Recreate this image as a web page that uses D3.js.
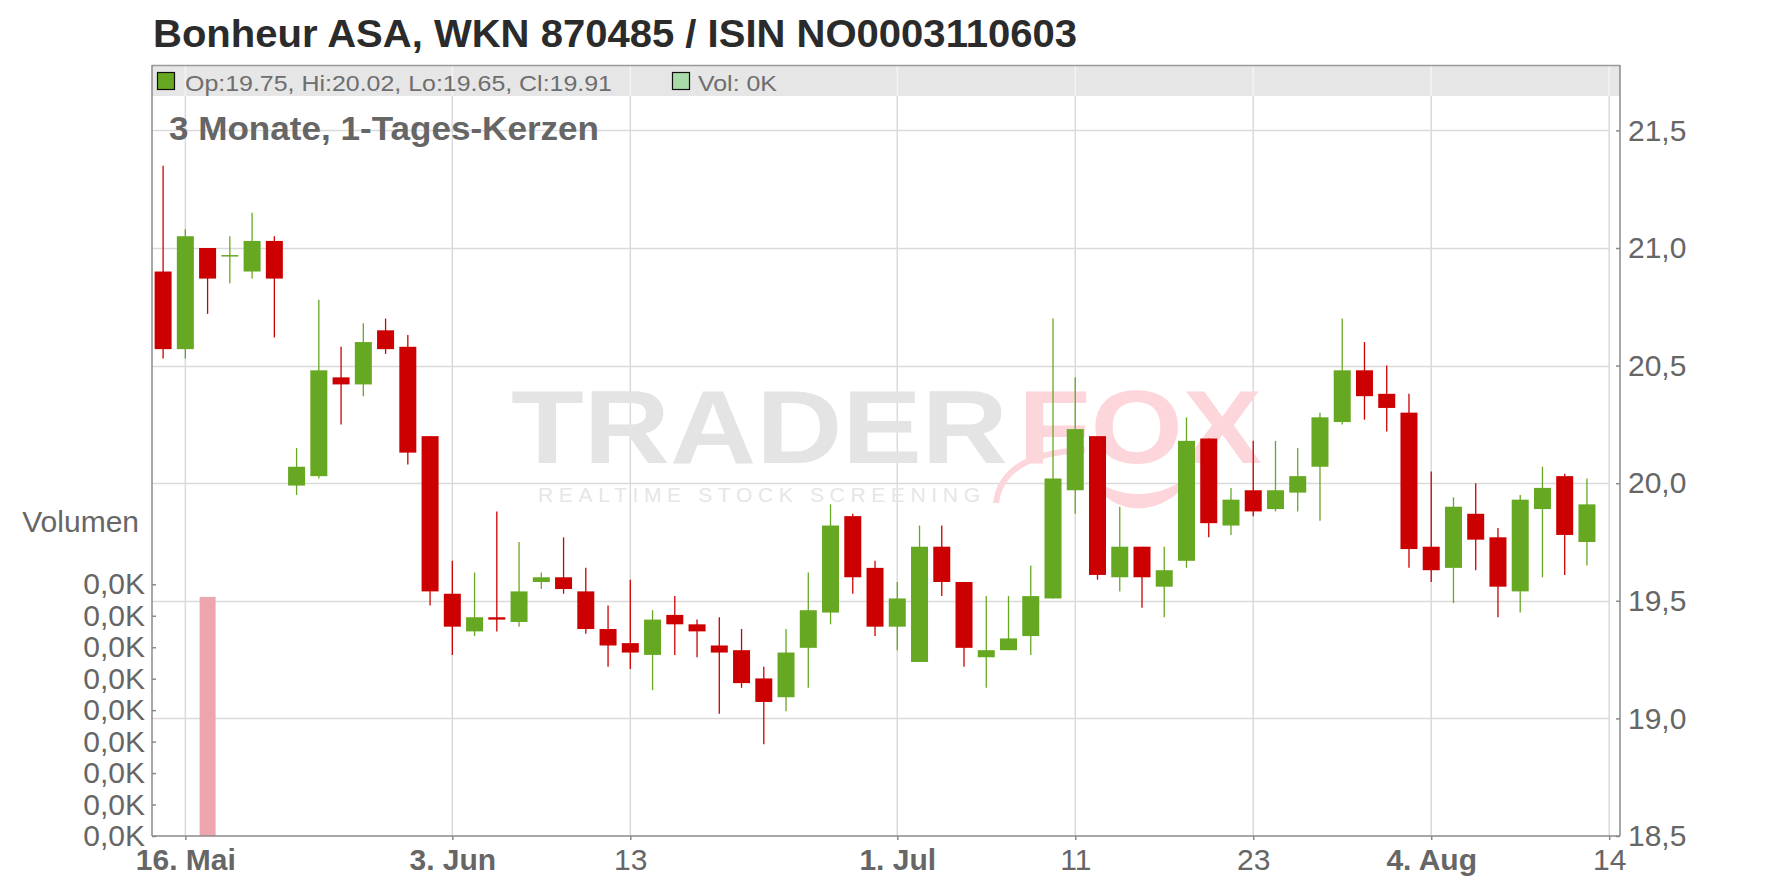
<!DOCTYPE html>
<html><head><meta charset="utf-8">
<script src="https://cdn.jsdelivr.net/npm/d3@7"></script>
<style>
body{margin:0;background:#fff}
svg{display:block;font-family:"Liberation Sans",Arial,Helvetica,sans-serif}
</style>
</head><body>
<svg id="chart" width="1776" height="888"></svg>
<script>
// ---------------- data ----------------
const firstDay = "2025-05-15";
const lastDay = "2025-08-14";
const open  = [20.90,20.57,21.00,20.97,20.90,21.03,19.99,20.03,20.45,20.42,20.65,20.58,20.20,19.53,19.37,19.43,19.41,19.58,19.60,19.54,19.38,19.32,19.27,19.44,19.40,19.31,19.29,19.17,19.09,19.30,19.45,19.86,19.64,19.39,19.24,19.73,19.58,19.26,19.29,19.35,19.51,19.97,20.20,19.60,19.73,19.56,19.67,20.19,19.82,19.97,19.89,19.96,20.07,20.26,20.48,20.38,20.30,19.73,19.64,19.87,19.77,19.54,19.89,20.03,19.75];
const high  = [21.35,21.08,21.00,21.05,21.15,21.05,20.15,20.78,20.58,20.68,20.70,20.63,20.20,19.67,19.62,19.88,19.75,19.62,19.77,19.64,19.48,19.59,19.46,19.52,19.42,19.43,19.38,19.22,19.38,19.62,19.91,19.87,19.67,19.58,19.82,19.82,19.58,19.52,19.52,19.65,20.70,20.45,20.20,19.90,19.73,19.73,20.28,20.19,19.98,20.18,20.18,20.15,20.30,20.70,20.60,20.50,20.38,20.05,19.94,20.00,19.81,19.95,20.07,20.04,20.02];
const low   = [20.53,20.53,20.72,20.85,20.87,20.62,19.95,20.02,20.25,20.37,20.55,20.08,19.48,19.27,19.35,19.37,19.39,19.55,19.53,19.36,19.22,19.21,19.12,19.27,19.26,19.02,19.13,18.89,19.03,19.13,19.40,19.53,19.35,19.29,19.24,19.52,19.22,19.13,19.29,19.27,19.51,19.87,19.59,19.54,19.47,19.43,19.64,19.77,19.78,19.86,19.88,19.88,19.84,20.25,20.27,20.22,19.64,19.58,19.49,19.63,19.43,19.45,19.60,19.61,19.65];
const close = [20.57,21.05,20.87,20.97,21.03,20.87,20.07,20.48,20.42,20.60,20.57,20.13,19.54,19.39,19.43,19.42,19.54,19.60,19.55,19.38,19.31,19.28,19.42,19.40,19.37,19.28,19.15,19.07,19.28,19.46,19.82,19.60,19.39,19.51,19.73,19.58,19.30,19.29,19.34,19.52,20.02,20.23,19.61,19.73,19.60,19.63,20.18,19.83,19.93,19.88,19.97,20.03,20.28,20.48,20.37,20.32,19.72,19.63,19.90,19.76,19.56,19.93,19.98,19.78,19.91];
const volume = [0,0,38,0,0,0,0,0,0,0,0,0,0,0,0,0,0,0,0,0,0,0,0,0,0,0,0,0,0,0,0,0,0,0,0,0,0,0,0,0,0,0,0,0,0,0,0,0,0,0,0,0,0,0,0,0,0,0,0,0,0,0,0,0,0];
const priceTicks = [18.5,19.0,19.5,20.0,20.5,21.0,21.5];
const volumeTicks = [0,5,10,15,20,25,30,35,40];
const xTickDates  = ["2025-05-16","2025-06-03","2025-06-13","2025-07-01","2025-07-11","2025-07-23","2025-08-04","2025-08-14"];
const xTickLabels = ["16. Mai","3. Jun","13","1. Jul","11","23","4. Aug","14"];
const titleText = "Bonheur ASA, WKN 870485 / ISIN NO0003110603";
const subtitleText = "3 Monate, 1-Tages-Kerzen";
const volumeLabel = "Volumen";

// ---------------- build ----------------
const fmtDay = d3.utcFormat("%Y-%m-%d");
const days = d3.utcDays(new Date(firstDay+"T00:00:00Z"), d3.utcDay.offset(new Date(lastDay+"T00:00:00Z"),1))
  .filter(d => d.getUTCDay() !== 0 && d.getUTCDay() !== 6).map(fmtDay);
const candles = open.map((o,i)=>({date:days[i],o,h:high[i],l:low[i],c:close[i],v:volume[i]}));

const L = 152, R = 1620, T = 65, B = 836, BAND = 96;
const svg = d3.select("#chart");
svg.append("rect").attr("width",1776).attr("height",888).attr("fill","#fff");

const x = d3.scalePoint().domain(days).range([163.1, 1609.2]);
const y = d3.scaleLinear().domain([18.5,21.5]).range([B,130.4]);
const v = d3.scaleLinear().domain([0,40]).range([B,584.3]);

// legend band
svg.append("rect").attr("x",L).attr("y",T).attr("width",R-L).attr("height",BAND-T).attr("fill","#e6e6e6");
svg.append("line").attr("x1",L).attr("x2",R).attr("y1",T+0.5).attr("y2",T+0.5).attr("stroke","#9a9a9a").attr("stroke-width",1.5);

// grid
const grid = svg.append("g");
grid.selectAll(".hg").data(priceTicks.filter(p=>p>18.5)).join("line")
  .attr("x1",L).attr("x2",1609.5).attr("y1",d=>Math.round(y(d))+0.5).attr("y2",d=>Math.round(y(d))+0.5)
  .attr("stroke","#dadada").attr("stroke-width",1.5);
grid.selectAll(".vg").data(xTickDates).join("line")
  .attr("x1",d=>x(d)).attr("x2",d=>x(d)).attr("y1",BAND).attr("y2",B)
  .attr("stroke","#dadada").attr("stroke-width",1.5);
grid.selectAll(".vb").data(xTickDates).join("line")
  .attr("x1",d=>x(d)).attr("x2",d=>x(d)).attr("y1",T+1.5).attr("y2",BAND)
  .attr("stroke","#f3f3f3").attr("stroke-width",1.5);

// watermark
const wm = svg.append("g");
wm.append("text").attr("x",511).attr("y",463).attr("font-size",104).attr("font-weight","bold")
  .attr("textLength",497).attr("lengthAdjust","spacingAndGlyphs").attr("fill","#e4e4e4").text("TRADER");
wm.append("path").attr("d","M996,503 C1000,470 1030,452 1085,450").attr("fill","none").attr("stroke","#fcd6db").attr("stroke-width",6);
wm.append("path").attr("d","M1090,476 C1110,520 1170,520 1195,470 C1165,500 1120,502 1090,476 Z").attr("fill","#fcd6db");
wm.append("text").attr("x",1018).attr("y",463).attr("font-size",104).attr("font-weight","bold")
  .attr("textLength",244).attr("lengthAdjust","spacingAndGlyphs").attr("fill","#fcd6db").text("FOX");
wm.append("text").attr("x",538).attr("y",502).attr("font-size",21)
  .attr("textLength",442).attr("lengthAdjust","spacing").attr("fill","#e6e6e6").text("REALTIME STOCK SCREENING");

// volume bars
const bw = 17;
svg.append("g").selectAll("rect").data(candles.filter(d=>d.v>0)).join("rect")
  .attr("x",d=>x(d.date)-bw/2+0.5).attr("width",bw-1)
  .attr("y",d=>v(d.v)).attr("height",d=>B-v(d.v))
  .attr("fill",d=>d.c>=d.o ? "#a9dba9" : "#eea6ae");

// candles
const cg = svg.append("g").selectAll("g").data(candles).join("g");
const col = d => d.c >= d.o ? "#66a822" : "#cc0000";
cg.append("line").attr("x1",d=>x(d.date)).attr("x2",d=>x(d.date))
  .attr("y1",d=>y(d.h)).attr("y2",d=>y(d.l)).attr("stroke",col).attr("stroke-width",1.3);
cg.append("rect").attr("x",d=>x(d.date)-bw/2).attr("width",bw)
  .attr("y",d=>y(Math.max(d.o,d.c)))
  .attr("height",d=>Math.max(1.5, Math.abs(y(d.o)-y(d.c))))
  .attr("fill",col);

// axes lines
const axisCol = "#8a8a8a";
svg.append("line").attr("x1",L).attr("x2",L).attr("y1",T).attr("y2",B).attr("stroke",axisCol).attr("stroke-width",1.5);
svg.append("line").attr("x1",R).attr("x2",R).attr("y1",T).attr("y2",B).attr("stroke",axisCol).attr("stroke-width",1.5);
svg.append("line").attr("x1",L).attr("x2",R).attr("y1",B).attr("y2",B).attr("stroke",axisCol).attr("stroke-width",1.5);

const AX = 30;
// price axis (right)
const fmtP = d => d.toFixed(1).replace(".",",");
const ya = svg.append("g").attr("transform",`translate(${R},0)`)
  .call(d3.axisRight(y).tickValues(priceTicks).tickSizeInner(-4).tickSizeOuter(0).tickPadding(8).tickFormat(fmtP));
ya.select(".domain").remove();
ya.selectAll("line").attr("stroke",axisCol).attr("stroke-width",1.5);
ya.selectAll("text").attr("font-size",AX).attr("fill","#666").attr("font-family",null);

// volume axis (left)
const fmtV = d => (d/1000).toFixed(1).replace(".",",")+"K";
const va = svg.append("g").attr("transform",`translate(${L},0)`)
  .call(d3.axisLeft(v).tickValues(volumeTicks).tickSizeInner(-4).tickSizeOuter(0).tickPadding(7).tickFormat(fmtV));
va.select(".domain").remove();
va.selectAll("line").attr("stroke",axisCol).attr("stroke-width",1.5);
va.selectAll("text").attr("font-size",AX).attr("fill","#666").attr("font-family",null);

// x axis
const xa = svg.append("g").attr("transform",`translate(0,${B})`)
  .call(d3.axisBottom(x).tickValues(xTickDates).tickSizeInner(4).tickSizeOuter(0).tickPadding(9)
    .tickFormat(d => xTickLabels[xTickDates.indexOf(d)]));
xa.select(".domain").remove();
xa.selectAll("line").attr("stroke",axisCol).attr("stroke-width",1.5);
xa.selectAll("text").attr("font-size",AX).attr("fill","#666").attr("font-family",null)
  .attr("font-weight",d => xTickLabels[xTickDates.indexOf(d)].includes(".") ? "bold" : "normal");

// titles
svg.append("text").attr("x",153).attr("y",46.5).attr("font-size",39.5).attr("font-weight","bold").attr("fill","#2b2b2b")
  .attr("textLength",924).attr("lengthAdjust","spacingAndGlyphs").text(titleText);
svg.append("text").attr("x",169).attr("y",140).attr("font-size",33.5).attr("font-weight","bold").attr("fill","#666")
  .attr("textLength",430).attr("lengthAdjust","spacingAndGlyphs").text(subtitleText);
svg.append("text").attr("x",139).attr("y",532).attr("text-anchor","end").attr("font-size",AX).attr("fill","#666").text(volumeLabel);

// legend
const last = candles[candles.length-1];
svg.append("rect").attr("x",157.5).attr("y",72.5).attr("width",17).attr("height",17).attr("fill","#66a822").attr("stroke","#111").attr("stroke-width",1.2);
svg.append("text").attr("x",185).attr("y",90.5).attr("font-size",22.5).attr("fill","#6e6e6e")
  .attr("textLength",427).attr("lengthAdjust","spacingAndGlyphs")
  .text(`Op:${last.o.toFixed(2)}, Hi:${last.h.toFixed(2)}, Lo:${last.l.toFixed(2)}, Cl:${last.c.toFixed(2)}`);
svg.append("rect").attr("x",672.5).attr("y",72.5).attr("width",17).attr("height",17).attr("fill","#a9dba9").attr("stroke","#111").attr("stroke-width",1.2);
svg.append("text").attr("x",698).attr("y",90.5).attr("font-size",22.5).attr("fill","#6e6e6e")
  .attr("textLength",79).attr("lengthAdjust","spacingAndGlyphs")
  .text(`Vol: ${Math.round(last.v/1000)}K`);
</script>
</body></html>
